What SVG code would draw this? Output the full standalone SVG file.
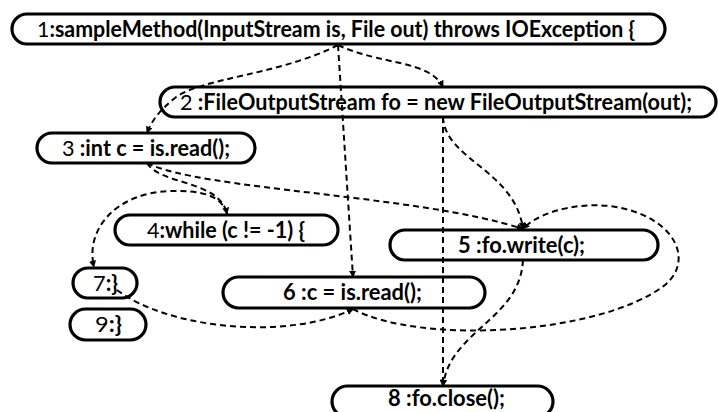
<svg xmlns="http://www.w3.org/2000/svg" width="718" height="412" viewBox="0 0 718 412">
<defs>
<marker id="arr" viewBox="0 0 10 10" refX="9" refY="5" markerWidth="7" markerHeight="7" markerUnits="userSpaceOnUse" orient="auto">
<path d="M0,0 L10,5 L0,10 z" fill="#000"/>
</marker>
<style>
.node rect{fill:#fff;stroke:#000;stroke-width:3.2}
.node text{font-family:Lato,"Open Sans","Liberation Sans",sans-serif;font-weight:bold;font-size:22px;fill:#000}
.num{font-weight:normal}
#edges path{fill:none;stroke:#000;stroke-width:2;stroke-dasharray:6,4;marker-end:url(#arr)}
</style>
</defs>
<rect width="718" height="412" fill="#fff"/>
<g id="n1" class="node"><rect x="12" y="14" width="653" height="30" rx="15"/><text x="37" y="37" textLength="598" lengthAdjust="spacingAndGlyphs"><tspan class="num">1</tspan>:sampleMethod(InputStream is, File out) throws IOException {</text></g>
<g id="n2" class="node"><rect x="160" y="87" width="556" height="30" rx="15"/><text x="180" y="110" textLength="512" lengthAdjust="spacingAndGlyphs"><tspan class="num">2</tspan> :FileOutputStream fo = new FileOutputStream(out);</text></g>
<g id="n3" class="node"><rect x="37" y="133" width="218" height="30" rx="15"/><text x="62" y="156" textLength="168" lengthAdjust="spacingAndGlyphs"><tspan class="num">3</tspan> :int c = is.read();</text></g>
<g id="n4" class="node"><rect x="115" y="215" width="223" height="30" rx="15"/><text x="147" y="238" textLength="158" lengthAdjust="spacingAndGlyphs"><tspan class="num">4</tspan>:while (c != -1) {</text></g>
<g id="n5" class="node"><rect x="390" y="230" width="268" height="30" rx="15"/><text x="458" y="253" textLength="127" lengthAdjust="spacingAndGlyphs">5 :fo.write(c);</text></g>
<g id="n6" class="node"><rect x="223" y="277" width="262" height="31" rx="15.5"/><text x="283" y="300" textLength="139" lengthAdjust="spacingAndGlyphs">6 :c = is.read();</text></g>
<g id="n7" class="node"><rect x="73" y="268" width="64" height="30" rx="15"/><text x="93" y="291" textLength="25" lengthAdjust="spacingAndGlyphs"><tspan class="num">7</tspan>:}</text></g>
<g id="n9" class="node"><rect x="70" y="309" width="76" height="31" rx="15.5"/><text x="95" y="332" textLength="27" lengthAdjust="spacingAndGlyphs"><tspan class="num">9</tspan>:}</text></g>
<g id="n8" class="node"><rect x="332" y="386" width="221" height="31" rx="15.5"/><text x="388" y="406" textLength="117" lengthAdjust="spacingAndGlyphs">8 :fo.close();</text></g>
<g id="edges">
<path d="M338,45 C280,75 200,78 175,98 C160,110 152,120 147,133"/>
<path d="M338,45 C380,65 430,60 443,87"/>
<path d="M338,45 L353,277"/>
<path d="M443,117 L443,386"/>
<path d="M443,117 C445,160 515,170 523,229"/>
<path d="M147,163 C160,185 220,180 227,214"/>
<path d="M147,163 C200,190 420,195 523,229"/>
<path d="M227,214 C222,195 200,190 170,191 C115,193 85,230 94,267"/>
<path d="M117,290 C170,330 290,340 353,309"/>
<path d="M353,309 C420,345 600,335 665,285 C695,260 675,215 610,206 C570,202 535,215 523,229"/>
<path d="M523,260 C520,320 450,330 443,386"/>
</g>
</svg>
